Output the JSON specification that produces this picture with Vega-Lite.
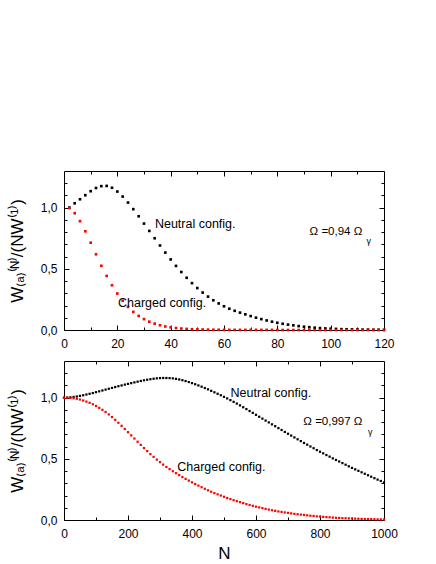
{
"$schema": "https://vega.github.io/schema/vega-lite/v6.json",
"padding": {"left": 7, "top": 170, "right": 5, "bottom": 5},
"background": "white",
"spacing": 10,
"config": {
  "view": {"stroke": "black", "strokeWidth": 1},
  "axis": {"domain": false, "grid": false, "tickColor": "black", "tickWidth": 1, "labelColor": "black", "titleColor": "black", "labelFont": "Liberation Sans", "titleFont": "Liberation Sans", "labelFontSize": 12, "titleFontWeight": "normal", "labelFlush": false, "labelOverlap": false},
  "text": {"font": "Liberation Sans"}
},
"datasets": {
  "topN": [{"N":2,"v":1.001},{"N":4,"v":1.036},{"N":6,"v":1.069},{"N":8,"v":1.102},{"N":10,"v":1.135},{"N":12,"v":1.161},{"N":14,"v":1.176},{"N":16,"v":1.178},{"N":18,"v":1.163},{"N":20,"v":1.132},{"N":22,"v":1.091},{"N":24,"v":1.042},{"N":26,"v":0.988},{"N":28,"v":0.930},{"N":30,"v":0.870},{"N":32,"v":0.810},{"N":34,"v":0.750},{"N":36,"v":0.691},{"N":38,"v":0.633},{"N":40,"v":0.577},{"N":42,"v":0.524},{"N":44,"v":0.474},{"N":46,"v":0.427},{"N":48,"v":0.383},{"N":50,"v":0.343},{"N":52,"v":0.306},{"N":54,"v":0.273},{"N":56,"v":0.243},{"N":58,"v":0.217},{"N":60,"v":0.194},{"N":62,"v":0.174},{"N":64,"v":0.157},{"N":66,"v":0.142},{"N":68,"v":0.128},{"N":70,"v":0.114},{"N":72,"v":0.101},{"N":74,"v":0.089},{"N":76,"v":0.078},{"N":78,"v":0.068},{"N":80,"v":0.059},{"N":82,"v":0.051},{"N":84,"v":0.044},{"N":86,"v":0.038},{"N":88,"v":0.032},{"N":90,"v":0.027},{"N":92,"v":0.023},{"N":94,"v":0.019},{"N":96,"v":0.016},{"N":98,"v":0.013},{"N":100,"v":0.011},{"N":102,"v":0.009},{"N":104,"v":0.007},{"N":106,"v":0.006},{"N":108,"v":0.005},{"N":110,"v":0.004},{"N":112,"v":0.003},{"N":114,"v":0.003},{"N":116,"v":0.002},{"N":118,"v":0.002},{"N":120,"v":0.001}],
  "topC": [{"N":2,"v":0.997},{"N":4,"v":0.955},{"N":6,"v":0.890},{"N":8,"v":0.807},{"N":10,"v":0.714},{"N":12,"v":0.619},{"N":14,"v":0.525},{"N":16,"v":0.442},{"N":18,"v":0.366},{"N":20,"v":0.298},{"N":22,"v":0.239},{"N":24,"v":0.189},{"N":26,"v":0.148},{"N":28,"v":0.115},{"N":30,"v":0.089},{"N":32,"v":0.068},{"N":34,"v":0.052},{"N":36,"v":0.039},{"N":38,"v":0.029},{"N":40,"v":0.022},{"N":42,"v":0.016},{"N":44,"v":0.012},{"N":46,"v":0.009},{"N":48,"v":0.006},{"N":50,"v":0.005},{"N":52,"v":0.004},{"N":54,"v":0.003},{"N":56,"v":0.002},{"N":58,"v":0.002},{"N":60,"v":0.001},{"N":62,"v":0.001},{"N":64,"v":0.001},{"N":66,"v":0.001},{"N":68,"v":0.001},{"N":70,"v":0.001},{"N":72,"v":0.001},{"N":74,"v":0.001},{"N":76,"v":0.001},{"N":78,"v":0.001},{"N":80,"v":0.0},{"N":82,"v":0.0},{"N":84,"v":0.0},{"N":86,"v":0.0},{"N":88,"v":0.0},{"N":90,"v":0.0},{"N":92,"v":0.0},{"N":94,"v":0.0},{"N":96,"v":0.0},{"N":98,"v":0.0},{"N":100,"v":0.0},{"N":102,"v":0.0},{"N":104,"v":0.0},{"N":106,"v":0.0},{"N":108,"v":0.0},{"N":110,"v":0.0},{"N":112,"v":0.0},{"N":114,"v":0.0},{"N":116,"v":0.0},{"N":118,"v":0.0},{"N":120,"v":0.0}],
  "topL": [{"N":34.1,"v":0.868,"t":"Neutral config."},{"N":20.25,"v":0.217,"t":"Charged config."}],
  "topO": [{"N":92.1,"v":0.80,"t":"Ω =0,94 Ω"}],
  "topG": [{"N":113.4,"v":0.729,"t":"γ"}],
  "botN": [{"N":0,"v":1.000},{"N":10,"v":1.001},{"N":20,"v":1.003},{"N":30,"v":1.006},{"N":40,"v":1.010},{"N":50,"v":1.015},{"N":60,"v":1.020},{"N":70,"v":1.026},{"N":80,"v":1.032},{"N":90,"v":1.038},{"N":100,"v":1.045},{"N":110,"v":1.052},{"N":120,"v":1.059},{"N":130,"v":1.066},{"N":140,"v":1.073},{"N":150,"v":1.080},{"N":160,"v":1.087},{"N":170,"v":1.094},{"N":180,"v":1.100},{"N":190,"v":1.107},{"N":200,"v":1.113},{"N":210,"v":1.119},{"N":220,"v":1.125},{"N":230,"v":1.131},{"N":240,"v":1.137},{"N":250,"v":1.142},{"N":260,"v":1.147},{"N":270,"v":1.151},{"N":280,"v":1.155},{"N":290,"v":1.158},{"N":300,"v":1.160},{"N":310,"v":1.161},{"N":320,"v":1.161},{"N":330,"v":1.160},{"N":340,"v":1.158},{"N":350,"v":1.154},{"N":360,"v":1.149},{"N":370,"v":1.143},{"N":380,"v":1.136},{"N":390,"v":1.128},{"N":400,"v":1.119},{"N":410,"v":1.110},{"N":420,"v":1.100},{"N":430,"v":1.090},{"N":440,"v":1.079},{"N":450,"v":1.068},{"N":460,"v":1.056},{"N":470,"v":1.044},{"N":480,"v":1.032},{"N":490,"v":1.020},{"N":500,"v":1.007},{"N":510,"v":0.994},{"N":520,"v":0.980},{"N":530,"v":0.966},{"N":540,"v":0.952},{"N":550,"v":0.937},{"N":560,"v":0.922},{"N":570,"v":0.907},{"N":580,"v":0.891},{"N":590,"v":0.876},{"N":600,"v":0.860},{"N":610,"v":0.844},{"N":620,"v":0.829},{"N":630,"v":0.813},{"N":640,"v":0.798},{"N":650,"v":0.782},{"N":660,"v":0.767},{"N":670,"v":0.751},{"N":680,"v":0.736},{"N":690,"v":0.720},{"N":700,"v":0.705},{"N":710,"v":0.690},{"N":720,"v":0.675},{"N":730,"v":0.660},{"N":740,"v":0.645},{"N":750,"v":0.630},{"N":760,"v":0.616},{"N":770,"v":0.601},{"N":780,"v":0.587},{"N":790,"v":0.572},{"N":800,"v":0.558},{"N":810,"v":0.545},{"N":820,"v":0.531},{"N":830,"v":0.518},{"N":840,"v":0.504},{"N":850,"v":0.491},{"N":860,"v":0.478},{"N":870,"v":0.465},{"N":880,"v":0.452},{"N":890,"v":0.439},{"N":900,"v":0.426},{"N":910,"v":0.414},{"N":920,"v":0.402},{"N":930,"v":0.390},{"N":940,"v":0.378},{"N":950,"v":0.366},{"N":960,"v":0.354},{"N":970,"v":0.342},{"N":980,"v":0.330},{"N":990,"v":0.319},{"N":1000,"v":0.307}],
  "botC": [{"N":0,"v":1.000},{"N":10,"v":0.999},{"N":20,"v":0.998},{"N":30,"v":0.995},{"N":40,"v":0.991},{"N":50,"v":0.985},{"N":60,"v":0.977},{"N":70,"v":0.968},{"N":80,"v":0.958},{"N":90,"v":0.946},{"N":100,"v":0.932},{"N":110,"v":0.917},{"N":120,"v":0.901},{"N":130,"v":0.883},{"N":140,"v":0.863},{"N":150,"v":0.842},{"N":160,"v":0.819},{"N":170,"v":0.795},{"N":180,"v":0.770},{"N":190,"v":0.744},{"N":200,"v":0.718},{"N":210,"v":0.692},{"N":220,"v":0.666},{"N":230,"v":0.640},{"N":240,"v":0.614},{"N":250,"v":0.588},{"N":260,"v":0.563},{"N":270,"v":0.539},{"N":280,"v":0.516},{"N":290,"v":0.494},{"N":300,"v":0.473},{"N":310,"v":0.453},{"N":320,"v":0.434},{"N":330,"v":0.416},{"N":340,"v":0.399},{"N":350,"v":0.383},{"N":360,"v":0.367},{"N":370,"v":0.351},{"N":380,"v":0.336},{"N":390,"v":0.322},{"N":400,"v":0.308},{"N":410,"v":0.294},{"N":420,"v":0.281},{"N":430,"v":0.268},{"N":440,"v":0.255},{"N":450,"v":0.243},{"N":460,"v":0.231},{"N":470,"v":0.220},{"N":480,"v":0.210},{"N":490,"v":0.200},{"N":500,"v":0.190},{"N":510,"v":0.180},{"N":520,"v":0.171},{"N":530,"v":0.162},{"N":540,"v":0.154},{"N":550,"v":0.146},{"N":560,"v":0.138},{"N":570,"v":0.130},{"N":580,"v":0.123},{"N":590,"v":0.116},{"N":600,"v":0.109},{"N":610,"v":0.103},{"N":620,"v":0.097},{"N":630,"v":0.091},{"N":640,"v":0.085},{"N":650,"v":0.080},{"N":660,"v":0.075},{"N":670,"v":0.070},{"N":680,"v":0.066},{"N":690,"v":0.062},{"N":700,"v":0.058},{"N":710,"v":0.054},{"N":720,"v":0.050},{"N":730,"v":0.047},{"N":740,"v":0.044},{"N":750,"v":0.041},{"N":760,"v":0.038},{"N":770,"v":0.035},{"N":780,"v":0.033},{"N":790,"v":0.030},{"N":800,"v":0.028},{"N":810,"v":0.026},{"N":820,"v":0.024},{"N":830,"v":0.022},{"N":840,"v":0.020},{"N":850,"v":0.018},{"N":860,"v":0.017},{"N":870,"v":0.015},{"N":880,"v":0.014},{"N":890,"v":0.013},{"N":900,"v":0.012},{"N":910,"v":0.011},{"N":920,"v":0.010},{"N":930,"v":0.009},{"N":940,"v":0.008},{"N":950,"v":0.007},{"N":960,"v":0.007},{"N":970,"v":0.006},{"N":980,"v":0.005},{"N":990,"v":0.005},{"N":1000,"v":0.004}],
  "botL": [{"N":520.6,"v":1.039,"t":"Neutral config."},{"N":354,"v":0.435,"t":"Charged config."}],
  "botO": [{"N":748,"v":0.802,"t":"Ω =0,997 Ω"}],
  "botG": [{"N":950,"v":0.72,"t":"γ"}]
},
"vconcat": [
  {
    "width": 320, "height": 159,
    "resolve": {"axis": {"x": "independent", "y": "independent"}},
    "layer": [
      {"data": {"name": "topN"}, "mark": {"type": "square", "size": 7, "color": "black", "opacity": 1},
       "encoding": {
         "x": {"field": "N", "type": "quantitative", "scale": {"domain": [0, 120], "nice": false, "zero": false},
               "axis": {"orient": "bottom", "values": [0, 20, 40, 60, 80, 100, 120], "format": "d", "tickSize": -5, "labelPadding": 13, "title": null}},
         "y": {"field": "v", "type": "quantitative", "scale": {"domain": [0, 1.3], "nice": false},
               "axis": {"orient": "left", "values": [0, 0.5, 1], "tickSize": -5, "labelPadding": 12, "labelExpr": "replace(format(datum.value, '.1f'), '.', ',')", "title": "W₍ₐ₎⁽ᴺ⁾/(NW⁽¹⁾)", "titleFontSize": 17, "titlePadding": 14}}
       }},
      {"data": {"name": "topC"}, "mark": {"type": "square", "size": 7, "color": "#ff0000", "opacity": 1},
       "encoding": {
         "x": {"field": "N", "type": "quantitative", "scale": {"domain": [0, 120], "nice": false, "zero": false},
               "axis": {"orient": "bottom", "values": [10, 30, 50, 70, 90, 110], "tickSize": -3, "labels": false, "title": null}},
         "y": {"field": "v", "type": "quantitative", "scale": {"domain": [0, 1.3], "nice": false},
               "axis": {"orient": "left", "values": [0.1, 0.2, 0.3, 0.4, 0.6, 0.7, 0.8, 0.9, 1.1, 1.2], "tickSize": -3, "labels": false, "title": null}}
       }},
      {"data": {"name": "topL"}, "mark": {"type": "text", "align": "left", "baseline": "middle", "fontSize": 12.5, "color": "black"},
       "encoding": {
         "x": {"field": "N", "type": "quantitative", "scale": {"domain": [0, 120], "nice": false, "zero": false},
               "axis": {"orient": "top", "values": [20, 40, 60, 80, 100], "tickSize": -5, "labels": false, "title": null}},
         "y": {"field": "v", "type": "quantitative", "scale": {"domain": [0, 1.3], "nice": false},
               "axis": {"orient": "right", "values": [0.5, 1], "tickSize": -5, "labels": false, "title": null}},
         "text": {"field": "t"}
       }},
      {"data": {"name": "topG"}, "mark": {"type": "text", "align": "left", "baseline": "middle", "fontSize": 9, "color": "black"},
       "encoding": {
         "x": {"field": "N", "type": "quantitative", "scale": {"domain": [0, 120], "nice": false, "zero": false},
               "axis": {"orient": "top", "values": [10, 30, 50, 70, 90, 110], "tickSize": -3, "labels": false, "title": null}},
         "y": {"field": "v", "type": "quantitative", "scale": {"domain": [0, 1.3], "nice": false},
               "axis": {"orient": "right", "values": [0.1, 0.2, 0.3, 0.4, 0.6, 0.7, 0.8, 0.9, 1.1, 1.2], "tickSize": -3, "labels": false, "title": null}},
         "text": {"field": "t"}
       }},
      {"data": {"name": "topO"}, "mark": {"type": "text", "align": "left", "baseline": "middle", "fontSize": 11.5, "color": "black"},
       "encoding": {
         "x": {"field": "N", "type": "quantitative", "scale": {"domain": [0, 120], "nice": false, "zero": false}, "axis": null},
         "y": {"field": "v", "type": "quantitative", "scale": {"domain": [0, 1.3], "nice": false}, "axis": null},
         "text": {"field": "t"}
       }}
    ]
  },
  {
    "width": 320, "height": 159,
    "resolve": {"axis": {"x": "independent", "y": "independent"}},
    "layer": [
      {"data": {"name": "botN"}, "mark": {"type": "square", "size": 5, "color": "black", "opacity": 1},
       "encoding": {
         "x": {"field": "N", "type": "quantitative", "scale": {"domain": [0, 1000], "nice": false, "zero": false},
               "axis": {"orient": "bottom", "values": [0, 200, 400, 600, 800, 1000], "format": "d", "tickSize": -5, "labelPadding": 13, "title": "N", "titleFontSize": 17, "titlePadding": 6}},
         "y": {"field": "v", "type": "quantitative", "scale": {"domain": [0, 1.3], "nice": false},
               "axis": {"orient": "left", "values": [0, 0.5, 1], "tickSize": -5, "labelPadding": 12, "labelExpr": "replace(format(datum.value, '.1f'), '.', ',')", "title": "W₍ₐ₎⁽ᴺ⁾/(NW⁽¹⁾)", "titleFontSize": 17, "titlePadding": 14}}
       }},
      {"data": {"name": "botC"}, "mark": {"type": "square", "size": 5, "color": "#ff0000", "opacity": 1},
       "encoding": {
         "x": {"field": "N", "type": "quantitative", "scale": {"domain": [0, 1000], "nice": false, "zero": false},
               "axis": {"orient": "bottom", "values": [100, 300, 500, 700, 900], "tickSize": -3, "labels": false, "title": null}},
         "y": {"field": "v", "type": "quantitative", "scale": {"domain": [0, 1.3], "nice": false},
               "axis": {"orient": "left", "values": [0.1, 0.2, 0.3, 0.4, 0.6, 0.7, 0.8, 0.9, 1.1, 1.2], "tickSize": -3, "labels": false, "title": null}}
       }},
      {"data": {"name": "botL"}, "mark": {"type": "text", "align": "left", "baseline": "middle", "fontSize": 12.5, "color": "black"},
       "encoding": {
         "x": {"field": "N", "type": "quantitative", "scale": {"domain": [0, 1000], "nice": false, "zero": false},
               "axis": {"orient": "top", "values": [200, 400, 600, 800], "tickSize": -5, "labels": false, "title": null}},
         "y": {"field": "v", "type": "quantitative", "scale": {"domain": [0, 1.3], "nice": false},
               "axis": {"orient": "right", "values": [0.5, 1], "tickSize": -5, "labels": false, "title": null}},
         "text": {"field": "t"}
       }},
      {"data": {"name": "botG"}, "mark": {"type": "text", "align": "left", "baseline": "middle", "fontSize": 9, "color": "black"},
       "encoding": {
         "x": {"field": "N", "type": "quantitative", "scale": {"domain": [0, 1000], "nice": false, "zero": false},
               "axis": {"orient": "top", "values": [100, 300, 500, 700, 900], "tickSize": -3, "labels": false, "title": null}},
         "y": {"field": "v", "type": "quantitative", "scale": {"domain": [0, 1.3], "nice": false},
               "axis": {"orient": "right", "values": [0.1, 0.2, 0.3, 0.4, 0.6, 0.7, 0.8, 0.9, 1.1, 1.2], "tickSize": -3, "labels": false, "title": null}},
         "text": {"field": "t"}
       }},
      {"data": {"name": "botO"}, "mark": {"type": "text", "align": "left", "baseline": "middle", "fontSize": 11.5, "color": "black"},
       "encoding": {
         "x": {"field": "N", "type": "quantitative", "scale": {"domain": [0, 1000], "nice": false, "zero": false}, "axis": null},
         "y": {"field": "v", "type": "quantitative", "scale": {"domain": [0, 1.3], "nice": false}, "axis": null},
         "text": {"field": "t"}
       }}
    ]
  }
]
}
